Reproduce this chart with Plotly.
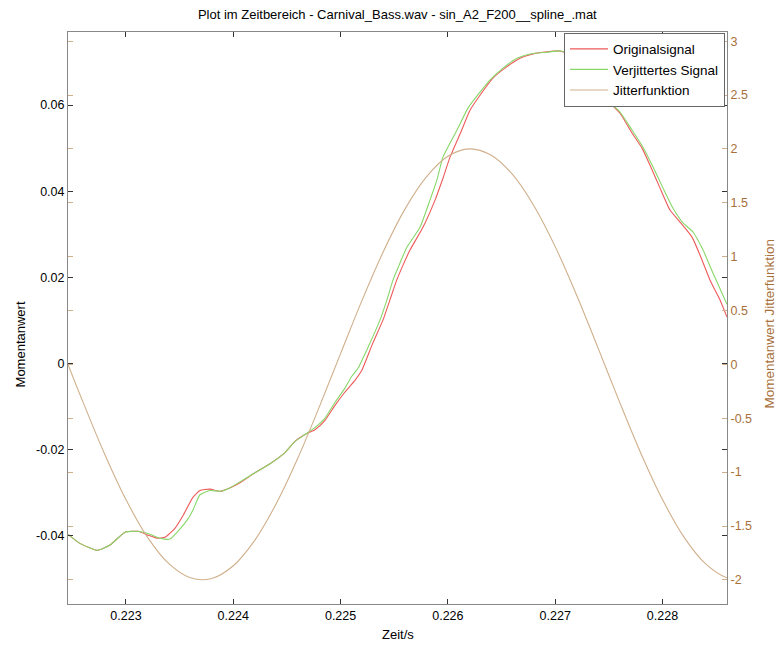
import plotly.graph_objects as go

# ---------------- data ----------------
t_orig = [0.22246, 0.222571, 0.22273, 0.222851, 0.222991, 0.223112, 0.223205, 0.223289,
          0.223364, 0.223457, 0.223531, 0.223624, 0.22369, 0.223783, 0.223876, 0.223951,
          0.224062, 0.224202, 0.224342, 0.224482, 0.224575, 0.224668, 0.224761, 0.224855,
          0.224948, 0.225041, 0.225134, 0.225199, 0.225293, 0.225395, 0.22546, 0.225523,
          0.225582, 0.225647, 0.225768, 0.22588, 0.225954, 0.22602, 0.226129, 0.226206,
          0.226299, 0.22642, 0.226548, 0.226672, 0.226793, 0.226924, 0.227045, 0.227138,
          0.227231, 0.227324, 0.227418, 0.227483, 0.227604, 0.227716, 0.227809, 0.227884,
          0.227977, 0.22807, 0.228163, 0.228275, 0.228368, 0.228443, 0.228536, 0.228601]
v_orig = [-0.0398, -0.0419, -0.0435, -0.0423, -0.0393, -0.0391, -0.0400, -0.0407,
          -0.0405, -0.0384, -0.0355, -0.0312, -0.0296, -0.0293, -0.0298, -0.0292,
          -0.0278, -0.0255, -0.0234, -0.0208, -0.0182, -0.0166, -0.0155, -0.0133,
          -0.0098, -0.0067, -0.0040, -0.0016, 0.0042, 0.0100, 0.0147, 0.0193,
          0.0228, 0.0263, 0.0316, 0.0379, 0.0430, 0.0479, 0.0542, 0.0588,
          0.0623, 0.0663, 0.0689, 0.0709, 0.0719, 0.0724, 0.0726, 0.0716,
          0.0695, 0.0663, 0.0630, 0.0612, 0.0581, 0.0535, 0.0500, 0.0460,
          0.0407, 0.0356, 0.0328, 0.0293, 0.0240, 0.0193, 0.0147, 0.0107]

t_jit = [0.22246, 0.222571, 0.22273, 0.222851, 0.222991, 0.223112, 0.223224, 0.223317,
         0.22341, 0.223503, 0.223578, 0.223627, 0.22369, 0.223783, 0.223876, 0.223969,
         0.224062, 0.224202, 0.224342, 0.224482, 0.224575, 0.224668, 0.224761, 0.224855,
         0.224948, 0.225041, 0.225106, 0.225162, 0.225265, 0.225367, 0.225432, 0.225488,
         0.225554, 0.225619, 0.22574, 0.225833, 0.225898, 0.225954, 0.226085, 0.226187,
         0.226299, 0.226392, 0.226514, 0.226644, 0.226765, 0.226924, 0.227045, 0.227138,
         0.227231, 0.227324, 0.227418, 0.227483, 0.227604, 0.227716, 0.227818, 0.227912,
         0.228005, 0.228098, 0.228191, 0.228284, 0.228378, 0.228471, 0.228601]
v_jit = [-0.0398, -0.0419, -0.0435, -0.0423, -0.0393, -0.0391, -0.0398, -0.0407,
         -0.0409, -0.0386, -0.0362, -0.0340, -0.0306, -0.0296, -0.0298, -0.0290,
         -0.0276, -0.0255, -0.0234, -0.0208, -0.0182, -0.0166, -0.0150, -0.0128,
         -0.0091, -0.0058, -0.0030, -0.0012, 0.0042, 0.0100, 0.0147, 0.0193,
         0.0233, 0.0270, 0.0316, 0.0379, 0.0426, 0.0479, 0.0542, 0.0593,
         0.0630, 0.0658, 0.0686, 0.0709, 0.0719, 0.0723, 0.0726, 0.0719,
         0.0698, 0.0667, 0.0635, 0.0612, 0.0584, 0.0542, 0.0502, 0.0456,
         0.0407, 0.0360, 0.0326, 0.0305, 0.0263, 0.0209, 0.0137]

t_fun = [0.2224, 0.2226, 0.2228, 0.2230, 0.2232, 0.2234, 0.2236, 0.2238, 0.2240,
         0.2242, 0.2244, 0.2246, 0.2248, 0.2250, 0.2252, 0.2254, 0.2256, 0.2258,
         0.2260, 0.2262, 0.2264, 0.2266, 0.2268, 0.2270, 0.2272, 0.2274, 0.2276,
         0.2278, 0.2280, 0.2282, 0.2284, 0.2286, 0.2288]
v_fun = [0.151, -0.350, -0.829, -1.255, -1.603, -1.850, -1.981, -1.987, -1.869,
         -1.633, -1.294, -0.874, -0.399, 0.100, 0.594, 1.050, 1.441, 1.740,
         1.931, 2.000, 1.943, 1.765, 1.475, 1.093, 0.642, 0.151, -0.350,
         -0.829, -1.255, -1.603, -1.850, -1.981, -1.987]

x_ticks = [0.223, 0.224, 0.225, 0.226, 0.227, 0.228]
x_ticktext = ["0.223", "0.224", "0.225", "0.226", "0.227", "0.228"]
y_ticks = [-0.04, -0.02, 0, 0.02, 0.04, 0.06]
y_ticktext = ["-0.04", "-0.02", "0", "0.02", "0.04", "0.06"]
y2_ticks = [-2, -1.5, -1, -0.5, 0, 0.5, 1, 1.5, 2, 2.5, 3]
y2_ticktext = ["-2", "-1.5", "-1", "-0.5", "0", "0.5", "1", "1.5", "2", "2.5", "3"]

title_text = "Plot im Zeitbereich - Carnival_Bass.wav - sin_A2_F200__spline_.mat"

# ---------------- styles ----------------
RED = "rgb(238,90,90)"
GREEN = "rgb(135,215,105)"
TAN_LINE = "rgb(208,176,140)"
TAN_TEXT = "rgb(168,112,58)"
FONT = "Liberation Sans, Arial, sans-serif"

fig = go.Figure()
fig.add_trace(go.Scatter(x=t_orig, y=v_orig, mode="lines", name="Originalsignal",
                         line=dict(color=RED, width=1.1, shape="spline", smoothing=0.5)))
fig.add_trace(go.Scatter(x=t_jit, y=v_jit, mode="lines", name="Verjittertes Signal",
                         line=dict(color=GREEN, width=1.1, shape="spline", smoothing=0.5)))
fig.add_trace(go.Scatter(x=t_fun, y=v_fun, mode="lines", name="Jitterfunktion",
                         yaxis="y2", line=dict(color=TAN_LINE, width=1.1, shape="spline")))

fig.update_layout(
    width=776, height=646,
    margin=dict(l=68, r=49, t=32, b=42),
    paper_bgcolor="white", plot_bgcolor="white",
    font=dict(family=FONT, size=12, color="black"),
    title=dict(text=title_text, x=0.512, xanchor="center", y=0.977, yanchor="middle",
               font=dict(size=13, family=FONT, color="black")),
    showlegend=True,
    legend=dict(x=0.997, xanchor="right", y=0.999, yanchor="top",
                bgcolor="white", bordercolor="#666666", borderwidth=1,
                font=dict(size=13.5, family=FONT, color="black"),
                tracegroupgap=0, itemwidth=38),
    xaxis=dict(range=[0.22246, 0.228601], tickvals=x_ticks, ticktext=x_ticktext,
               ticks="inside", ticklen=5, tickcolor="#333333", showline=True,
               linecolor="#888888", linewidth=1, mirror="ticks", showgrid=False,
               zeroline=False, tickfont=dict(size=12.5, color="black")),
    yaxis=dict(range=[-0.0560, 0.0770], tickvals=y_ticks, ticktext=y_ticktext,
               ticks="inside", ticklen=5, tickcolor="#333333", showline=True,
               linecolor="#888888", linewidth=1, mirror="ticks", showgrid=False,
               zeroline=False, tickfont=dict(size=12.5, color="black")),
    yaxis2=dict(range=[-2.224, 3.085], tickvals=y2_ticks, ticktext=y2_ticktext,
                overlaying="y", side="right", anchor="x",
                ticks="inside", ticklen=5, tickcolor=TAN_LINE, showline=True,
                linecolor="#888888", linewidth=1, mirror="ticks", showgrid=False,
                zeroline=False, tickfont=dict(size=12.5, color=TAN_TEXT)),
    annotations=[
        dict(text="Zeit/s", xref="paper", yref="paper", x=0.5, y=-0.054,
             xanchor="center", yanchor="middle", showarrow=False,
             font=dict(size=13, family=FONT, color="black")),
        dict(text="Momentanwert", xref="paper", yref="paper", x=-0.072, y=0.453,
             xanchor="center", yanchor="middle", textangle=-90, showarrow=False,
             font=dict(size=13, family=FONT, color="black")),
        dict(text="Momentanwert Jitterfunktion", xref="paper", yref="paper", x=1.065, y=0.49,
             xanchor="center", yanchor="middle", textangle=-90, showarrow=False,
             font=dict(size=13.5, family=FONT, color=TAN_TEXT)),
    ],
)

fig.write_html("out.html")
